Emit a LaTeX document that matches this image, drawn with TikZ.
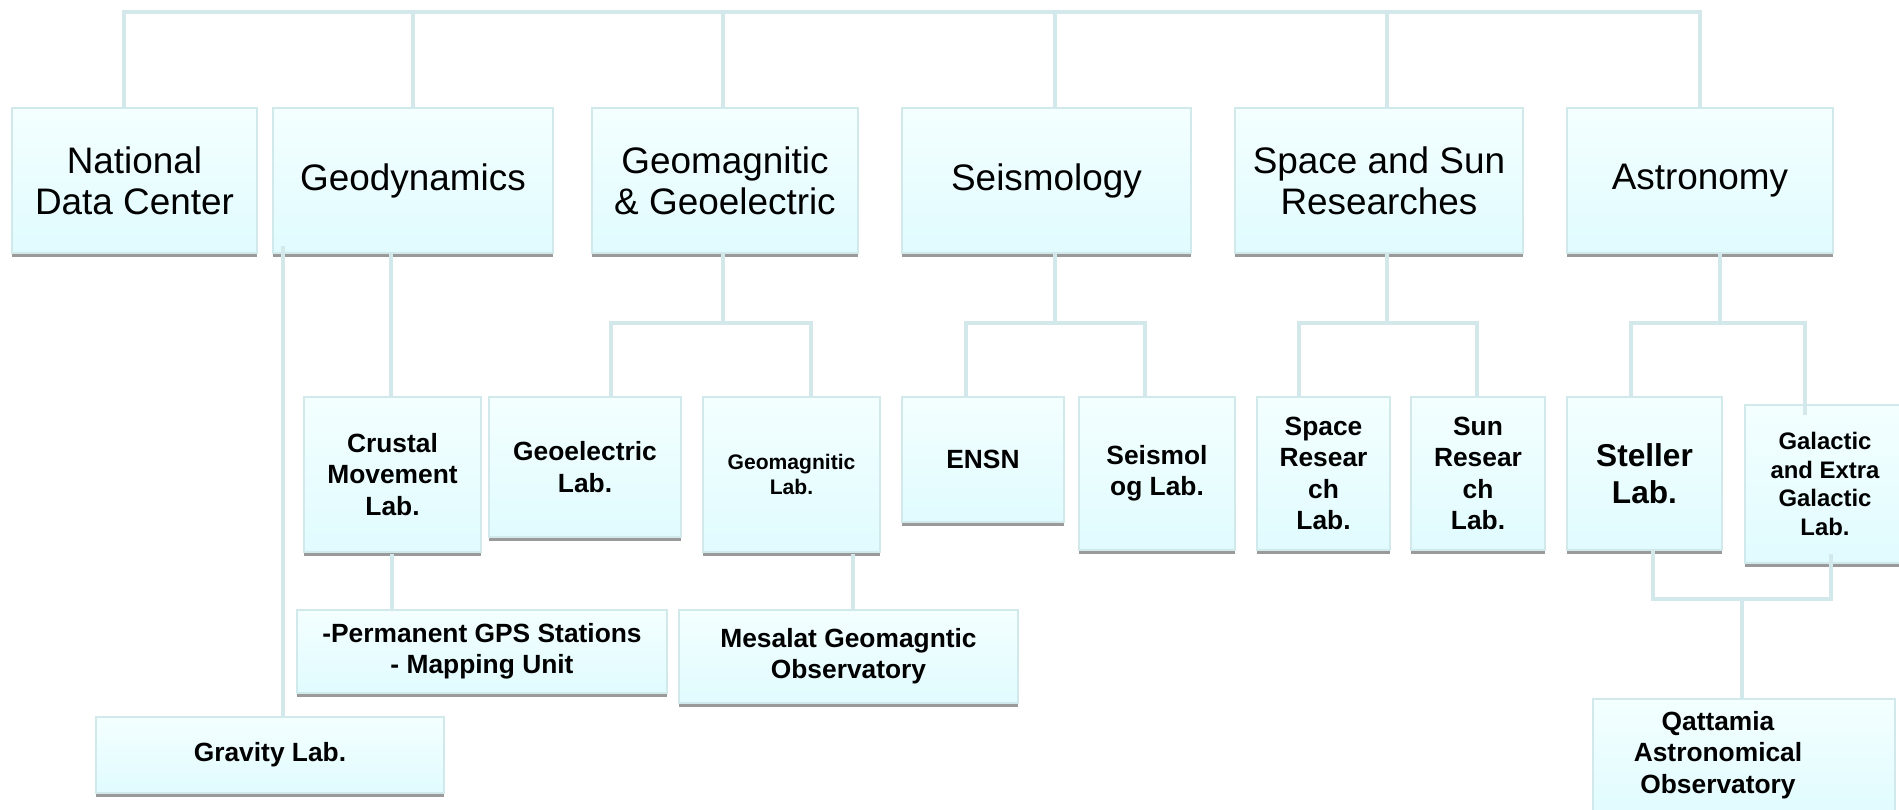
\documentclass[tikz,border=0pt]{standalone}
\usepackage{fontspec}
\setmainfont{Liberation Sans}
\definecolor{conncol}{HTML}{D2E8EB}
\definecolor{bordc}{HTML}{D2E9EC}
\definecolor{boxtop}{HTML}{F4FFFF}
\definecolor{boxbot}{HTML}{E0FBFE}
\definecolor{shadowc}{HTML}{9A9A9A}
\tikzset{
  box/.style={draw=bordc, line width=0.5pt, top color=boxtop, bottom color=boxbot,
    inner sep=0pt, align=center, text=black},
  lvone/.style={font=\fontsize{10.5}{11.6}\selectfont},
  lvtwo/.style={font=\bfseries\fontsize{7.5}{8.9}\selectfont},
  conn/.style={draw=conncol, line width=1pt, line cap=rect},
}
\newcommand\orgbox[7][]{%
  \fill[shadowc] (#3,#6) rectangle (#5,#6+4);
  \node[box,#1, minimum width={(#5-#3)*0.1mm}, minimum height={(#6-#4)*0.1mm}] (#2) at ({(#3+#5)/2},{(#4+#6)/2}) {#7};
}
\begin{document}
\begin{tikzpicture}[x=0.1mm,y=-0.1mm]
\useasboundingbox (0,0) rectangle (1899,809);
% level 1
\orgbox[lvone]{natl}{12}{108}{257}{253}{National\\Data Center}
\orgbox[lvone]{geod}{273}{108}{553}{253}{Geodynamics}
\orgbox[lvone]{geom}{592}{108}{858}{253}{Geomagnitic\\\& Geoelectric}
\orgbox[lvone]{seis}{902}{108}{1191}{253}{Seismology}
\orgbox[lvone]{space}{1235}{108}{1523}{253}{Space and Sun\\Researches}
\orgbox[lvone]{astro}{1567}{108}{1833}{253}{Astronomy}
% level 2
\orgbox[lvtwo]{crust}{304}{397}{481}{552}{Crustal\\Movement\\Lab.}
\orgbox[lvtwo]{geoel}{489}{397}{681}{537}{Geoelectric\\Lab.}
\orgbox[font=\bfseries\fontsize{6}{7.1}\selectfont]{geoml}{703}{397}{880}{552}{Geomagnitic\\Lab.}
\orgbox[lvtwo]{ensn}{902}{397}{1064}{522}{ENSN}
\orgbox[lvtwo]{seisl}{1079}{397}{1235}{550}{Seismol\\og Lab.}
\orgbox[lvtwo]{spacel}{1257}{397}{1390}{550}{Space\\Resear\\ch\\Lab.}
\orgbox[lvtwo]{sunl}{1411}{397}{1545}{550}{Sun\\Resear\\ch\\Lab.}
\orgbox[font=\bfseries\fontsize{9}{10.6}\selectfont]{stell}{1567}{397}{1722}{550}{Steller\\Lab.}
\orgbox[font=\bfseries\fontsize{6.8}{8.2}\selectfont]{galac}{1745}{405}{1905}{563}{Galactic\\and Extra\\Galactic\\Lab.}
% level 3
\orgbox[lvtwo]{gps}{297}{610}{667}{693}{-Permanent GPS Stations\\- Mapping Unit}
\orgbox[lvtwo]{mesal}{679}{610}{1018}{703}{Mesalat Geomagntic\\Observatory}
\orgbox{qatt}{1593}{699}{1895}{815}{}
\node[lvtwo, align=center, inner sep=0pt] (qtxt) at (1718,755) {Qattamia\\Astronomical\\Observatory};
\orgbox[lvtwo]{grav}{96}{717}{444}{793}{Gravity Lab.}
% top bus
\coordinate (bL) at (124,12);
\coordinate (bR) at (1700,12);
\coordinate (t2) at (413,12);
\coordinate (t3) at (723,12);
\coordinate (t4) at (1055,12);
\coordinate (t5) at (1387,12);
\draw[conn] (bL) -- (bR);
\draw[conn] (bL) -- (bL |- natl.north);
\draw[conn] (t2) -- (t2 |- geod.north);
\draw[conn] (t3) -- (t3 |- geom.north);
\draw[conn] (t4) -- (t4 |- seis.north);
\draw[conn] (t5) -- (t5 |- space.north);
\draw[conn] (bR) -- (bR |- astro.north);
% geodynamics
\coordinate (gd1) at (391,256);
\draw[conn] (gd1) -- (gd1 |- crust.north);
\coordinate (gd2) at (283,248);
\draw[conn] (gd2) -- (gd2 |- grav.north);
\coordinate (cr1) at (392,556);
\draw[conn] (cr1) -- (cr1 |- gps.north);
% geomagnetic
\coordinate (gmj) at (723,323);
\coordinate (gmL) at (611,323);
\coordinate (gmR) at (811,323);
\draw[conn] (gmj |- geom.south) -- (gmj);
\draw[conn] (gmL) -- (gmR);
\draw[conn] (gmL) -- (gmL |- geoel.north);
\draw[conn] (gmR) -- (gmR |- geoml.north);
\coordinate (gm3) at (853,556);
\draw[conn] (gm3) -- (gm3 |- mesal.north);
% seismology
\coordinate (sj) at (1055,323);
\coordinate (sL) at (966,323);
\coordinate (sR) at (1145,323);
\draw[conn] (sj |- seis.south) -- (sj);
\draw[conn] (sL) -- (sR);
\draw[conn] (sL) -- (sL |- ensn.north);
\draw[conn] (sR) -- (sR |- seisl.north);
% space
\coordinate (pj) at (1387,323);
\coordinate (pL) at (1299,323);
\coordinate (pR) at (1477,323);
\draw[conn] (pj |- space.south) -- (pj);
\draw[conn] (pL) -- (pR);
\draw[conn] (pL) -- (pL |- spacel.north);
\draw[conn] (pR) -- (pR |- sunl.north);
% astronomy
\coordinate (aj) at (1720,323);
\coordinate (aL) at (1631,323);
\coordinate (aR) at (1805,323);
\coordinate (aRe) at (1805,413);
\draw[conn] (aj |- astro.south) -- (aj);
\draw[conn] (aL) -- (aR);
\draw[conn] (aL) -- (aL |- stell.north);
\draw[conn] (aR) -- (aRe);
\coordinate (qL) at (1653,599);
\coordinate (qR) at (1831,599);
\coordinate (qj) at (1742,599);
\coordinate (gx) at (1831,556);
\draw[conn] (qL |- stell.south) -- (qL);
\draw[conn] (gx) -- (qR);
\draw[conn] (qL) -- (qR);
\draw[conn] (qj) -- (qj |- qatt.north);
\end{tikzpicture}
\end{document}
